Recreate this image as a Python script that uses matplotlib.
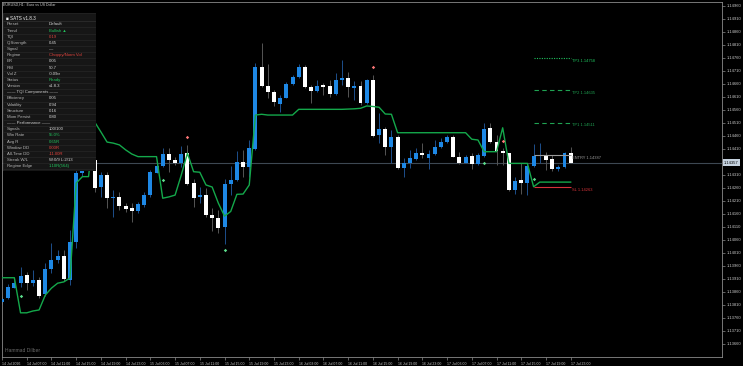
import matplotlib
matplotlib.use("Agg")
import matplotlib.pyplot as plt
import matplotlib.transforms as mtransforms
from matplotlib.patches import Rectangle
import numpy as np
import pandas as pd

plt.rcParams['font.family'] = ['Liberation Sans', 'DejaVu Sans']

W, H = 743, 366

# EURUSD H1 candles, 14 Jul 03:00 -> 17 Jul 23:00
opens = [
    1.13820, 1.13835, 1.13875, 1.13892, 1.13923, 1.13892, 1.13905, 1.13851, 1.13946, 1.13982,
    1.13997, 1.13905, 1.14053, 1.14316, 1.14444, 1.14367, 1.14264, 1.14309, 1.14220, 1.14225,
    1.14190, 1.14181, 1.14172, 1.14194, 1.14232, 1.14318, 1.14344, 1.14390, 1.14367, 1.14357,
    1.14393, 1.14277, 1.14223, 1.14232, 1.14155, 1.14145, 1.14108, 1.14273, 1.14290, 1.14358,
    1.14341, 1.14409, 1.14724, 1.14653, 1.14628, 1.14581, 1.14607, 1.14660, 1.14685, 1.14726,
    1.14647, 1.14634, 1.14656, 1.14652, 1.14621, 1.14675, 1.14682, 1.14645, 1.14653, 1.14585,
    1.14675, 1.14463, 1.14486, 1.14416, 1.14457, 1.14335, 1.14354, 1.14371, 1.14393, 1.14374,
    1.14390, 1.14418, 1.14437, 1.14457, 1.14377, 1.14357, 1.14382, 1.14350, 1.14382, 1.14489,
    1.14437, 1.14402, 1.14393, 1.14252, 1.14290, 1.14280, 1.14344, 1.14382, 1.14384, 1.14371,
    1.14331, 1.14339, 1.14393]
highs = [
    1.13840, 1.13890, 1.13913, 1.13956, 1.13937, 1.13944, 1.13918, 1.13969, 1.14046, 1.14021,
    1.14021, 1.14098, 1.14336, 1.14463, 1.14475, 1.14386, 1.14322, 1.14322, 1.14252, 1.14245,
    1.14201, 1.14203, 1.14207, 1.14245, 1.14329, 1.14354, 1.14412, 1.14412, 1.14380, 1.14421,
    1.14425, 1.14293, 1.14264, 1.14258, 1.14181, 1.14175, 1.14293, 1.14345, 1.14402, 1.14406,
    1.14444, 1.14739, 1.14816, 1.14737, 1.14637, 1.14617, 1.14669, 1.14694, 1.14737, 1.14733,
    1.14656, 1.14675, 1.14662, 1.14675, 1.14701, 1.14752, 1.14707, 1.14671, 1.14672, 1.14679,
    1.14694, 1.14547, 1.14495, 1.14483, 1.14463, 1.14374, 1.14406, 1.14412, 1.14431, 1.14406,
    1.14444, 1.14451, 1.14463, 1.14463, 1.14399, 1.14386, 1.14393, 1.14393, 1.14508, 1.14508,
    1.14463, 1.14412, 1.14395, 1.14303, 1.14354, 1.14357, 1.14429, 1.14431, 1.14399, 1.14386,
    1.14348, 1.14399, 1.14416]
lows = [
    1.13813, 1.13832, 1.13874, 1.13879, 1.13867, 1.13882, 1.13835, 1.13845, 1.13931, 1.13969,
    1.13902, 1.13886, 1.14028, 1.14305, 1.14348, 1.14245, 1.14226, 1.14181, 1.14149, 1.14175,
    1.14168, 1.14130, 1.14162, 1.14187, 1.14223, 1.14316, 1.14341, 1.14322, 1.14348, 1.14341,
    1.14271, 1.14185, 1.14200, 1.14149, 1.14095, 1.14085, 1.14044, 1.14232, 1.14287, 1.14303,
    1.14300, 1.14406, 1.14649, 1.14605, 1.14575, 1.14553, 1.14604, 1.14656, 1.14683, 1.14643,
    1.14588, 1.14630, 1.14617, 1.14608, 1.14617, 1.14656, 1.14611, 1.14598, 1.14579, 1.14581,
    1.14457, 1.14431, 1.14386, 1.14354, 1.14331, 1.14300, 1.14335, 1.14367, 1.14374, 1.14331,
    1.14386, 1.14415, 1.14434, 1.14377, 1.14352, 1.14354, 1.14331, 1.14348, 1.14379, 1.14431,
    1.14348, 1.14348, 1.14249, 1.14236, 1.14236, 1.14232, 1.14340, 1.14357, 1.14329, 1.14326,
    1.14326, 1.14336, 1.14354]
closes = [
    1.13832, 1.13879, 1.13892, 1.13920, 1.13892, 1.13905, 1.13845, 1.13946, 1.13982, 1.13997,
    1.13908, 1.14053, 1.14316, 1.14444, 1.14367, 1.14258, 1.14309, 1.14220, 1.14223, 1.14190,
    1.14177, 1.14172, 1.14198, 1.14232, 1.14322, 1.14344, 1.14390, 1.14367, 1.14357, 1.14390,
    1.14275, 1.14220, 1.14232, 1.14155, 1.14145, 1.14104, 1.14275, 1.14290, 1.14358, 1.14341,
    1.14412, 1.14724, 1.14653, 1.14628, 1.14589, 1.14607, 1.14660, 1.14685, 1.14726, 1.14647,
    1.14634, 1.14653, 1.14649, 1.14621, 1.14675, 1.14682, 1.14647, 1.14653, 1.14585, 1.14675,
    1.14461, 1.14486, 1.14416, 1.14457, 1.14335, 1.14357, 1.14374, 1.14393, 1.14386, 1.14390,
    1.14418, 1.14437, 1.14457, 1.14380, 1.14357, 1.14380, 1.14350, 1.14386, 1.14485, 1.14435,
    1.14403, 1.14393, 1.14252, 1.14287, 1.14280, 1.14344, 1.14384, 1.14386, 1.14367, 1.14331,
    1.14341, 1.14393, 1.14357]

# trailing stop line (green)
trail = [
    1.13914, 1.13914, 1.13914, 1.13779, 1.13779, 1.13786, 1.13790, 1.13847, 1.13874, 1.13893,
    1.13898, 1.13913, 1.14278, 1.14303, 1.14303, 1.14513, 1.14475, 1.14436, 1.14432, 1.14425,
    1.14406, 1.14390, 1.14380, 1.14380, 1.14380, 1.14380, 1.14220, 1.14225, 1.14232, 1.14309,
    1.14393, 1.14322, 1.14320, 1.14271, 1.14263, 1.14201, 1.14151, 1.14169, 1.14235, 1.14236,
    1.14271, 1.14540, 1.14543, 1.14540, 1.14540, 1.14540, 1.14540, 1.14540, 1.14562, 1.14562,
    1.14562, 1.14562, 1.14562, 1.14562, 1.14562, 1.14562, 1.14563, 1.14564, 1.14566, 1.14575,
    1.14573, 1.14570, 1.14544, 1.14543, 1.14472, 1.14472, 1.14472, 1.14472, 1.14472, 1.14472,
    1.14472, 1.14472, 1.14472, 1.14472, 1.14472, 1.14472, 1.14447, 1.14444, 1.14399, 1.14399,
    1.14399, 1.14491, 1.14354, 1.14354, 1.14354, 1.14354, 1.14264, 1.14282, 1.14282, 1.14282,
    1.14282, 1.14282, 1.14282]

buy_bars = [3, 26, 36, 78, 86]
buy_prices = [1.13844, 1.14290, 1.14021, 1.14354, 1.14293]
sell_bars = [30, 60, 81]
sell_prices = [1.14454, 1.14724, 1.14441]

trade_start = 86
level_names = ["TP3", "TP2", "TP1", "ENTRY", "SL"]
level_prices = [1.14758, 1.14635, 1.14511, 1.14387, 1.14263]
level_colors = ["#1fc35e", "#1fa352", "#1fa352", "#9a9a9a", "#d6333a"]
level_styles = [(0, (1, 1.2)), (0, (4, 3)), (0, (4, 3)), "-", "-"]

price_ticks = np.round(np.arange(1.13660, 1.149601, 0.0005), 5)
times = pd.date_range("2026-07-14 03:00", periods=len(opens), freq="h")

panel_labels = ["Preset", "Trend", "TQI", "Q.Strength", "Signal", "Regime", "ER", "RSI",
                "Vol Z", "Status", "Version", "—— TQI Components ——", "Efficiency",
                "Volatility", "Structure", "Mom Persist", "—— Performance ——", "Signals",
                "Win Rate", "Avg R", "Window DD", "All-Time DD", "Streak W/L", "Regime Edge"]
panel_values = ["Default", "Bullish ▲", "0.19", "0.45", "—", "Choppy/Norm Vol", "0.05",
                "50.7", "-0.09σ", "Ready", "v1.8.3", "", "0.05", "0.94", "0.16", "0.80", "",
                "100/100", "55.0%", "0.65R", "0.00R", "-11.00R", "W:0/9 L:2/13", "1.10R(564)"]
panel_colors = ["w", "g", "r", "w", "w", "r", "w", "w", "w", "g", "w", "w", "w", "w", "w",
                "w", "w", "w", "g", "g", "r", "r", "w", "g"]

# ---------------------------------------------------------------
n = len(opens)
x = np.arange(n)
o = np.array(opens); c = np.array(closes)
up = c >= o
last = closes[-1]

fig = plt.figure(figsize=(W / 100, H / 100), dpi=100, facecolor="black")
ax = fig.add_axes([2 / W, 9 / H, 720 / W, 355 / H])
ax.set_facecolor("black")
ax.set_xlim(0.16, 116.48)
ax.set_ylim(1.13609, 1.14975)

# last price line
ax.axhline(last, color="#3d4852", lw=0.8, zorder=1)

# candles
wick_cols = np.where(up, "#1d4f8c", "#555555")
ax.vlines(x, lows, highs, colors=wick_cols, lw=0.7, zorder=2)
body_h = np.maximum(np.abs(c - o), 0.00003)
ax.bar(x, body_h, bottom=np.minimum(o, c), width=0.64,
       color=np.where(up, "#1e88e5", "#ffffff"), linewidth=0, zorder=3)

# trailing line
ax.plot(x, trail, color="#14a84b", lw=1.0, zorder=4)

# signals
ax.scatter(buy_bars, buy_prices, marker="D", s=3, color="#5ee08f", zorder=5, linewidths=0)
ax.scatter(sell_bars, sell_prices, marker="D", s=3, color="#ff7878", zorder=5, linewidths=0)

# trade levels
for name, p, col, ls in zip(level_names, level_prices, level_colors, level_styles):
    ax.hlines(p, trade_start, n - 1, colors=col, linestyles=ls, lw=0.8, zorder=4)
    ax.annotate(f"{name} {p:.5f}", (n - 1, p), xytext=(0.8, -0.6), textcoords="offset points",
                ha="left", va="top", fontsize=2.9, color=col)

# axes styling
for s in ax.spines.values():
    s.set_color("#8a8a8a"); s.set_linewidth(0.6)
ax.yaxis.tick_right()
ax.set_yticks(price_ticks)
# the last-price tag hides the label it sits on
ax.set_yticklabels(["" if abs(p - last) < 0.00025 else f"{p:.5f}" for p in price_ticks])
ax.tick_params(axis="y", colors="#8a8a8a", labelcolor="#c8c8c8", labelsize=3,
               length=2, width=0.5, pad=1.5)
xt = list(range(0, n, 4))
ax.set_xticks(xt)
ax.set_xticklabels([times[i].strftime("%d %b %Y") if i == 0 else times[i].strftime("%d %b %H:%M")
                    for i in xt], ha="left")
ax.tick_params(axis="x", colors="#8a8a8a", labelcolor="#c8c8c8", labelsize=2.5,
               length=2.5, width=0.5, pad=1)

# last price tag on the axis
trans = mtransforms.blended_transform_factory(ax.transAxes, ax.transData)
ax.text(1.003, last, f"{last:.5f}", transform=trans, ha="left", va="center",
        fontsize=3, color="#000000", clip_on=False, zorder=10,
        bbox=dict(facecolor="#c5d2df", edgecolor="none", pad=0.8))

# header and watermark
fig.text(3 / W, 1 - 4.5 / H, "EURUSD,H1:  Euro vs US Dollar", fontsize=2.6, color="#d0d0d0",
         va="center", ha="left")
fig.text(5 / W, 1 - 350 / H, "Hammad Dilber", fontsize=3.6, color="#6a6a6a", va="center")

# info panel
pax = fig.add_axes([3 / W, 1 - 171 / H, 93 / W, 158 / H])
pax.set_xlim(3, 96); pax.set_ylim(171, 13)
pax.axis("off")
pax.add_patch(Rectangle((3, 13), 93, 158, facecolor="#161616", edgecolor="#2a2a2a", lw=0.5))
pax.text(5.5, 18.6, "■ SATS v1.8.3", fontsize=3.3, color="#f0f0f0", va="center")
pax.hlines(21.3, 3, 96, color="#303030", lw=0.5)
cmap = {"w": "#d8d8d8", "g": "#22c55e", "r": "#e0443e"}
for k, (lab, val, col) in enumerate(zip(panel_labels, panel_values, panel_colors)):
    yc = 24.4 + k * 6.17
    section = lab.startswith("——")
    pax.text(7, yc, lab, fontsize=3.1, color="#d0d0d0" if section else "#b8b8b8", va="center")
    if val:
        pax.text(49, yc, val, fontsize=3.1, color=cmap[col], va="center")
    pax.hlines(yc + 3.08, 3, 96, color="#2a2a2a", lw=0.4)

fig.savefig("out.png", dpi=100, facecolor="black")
